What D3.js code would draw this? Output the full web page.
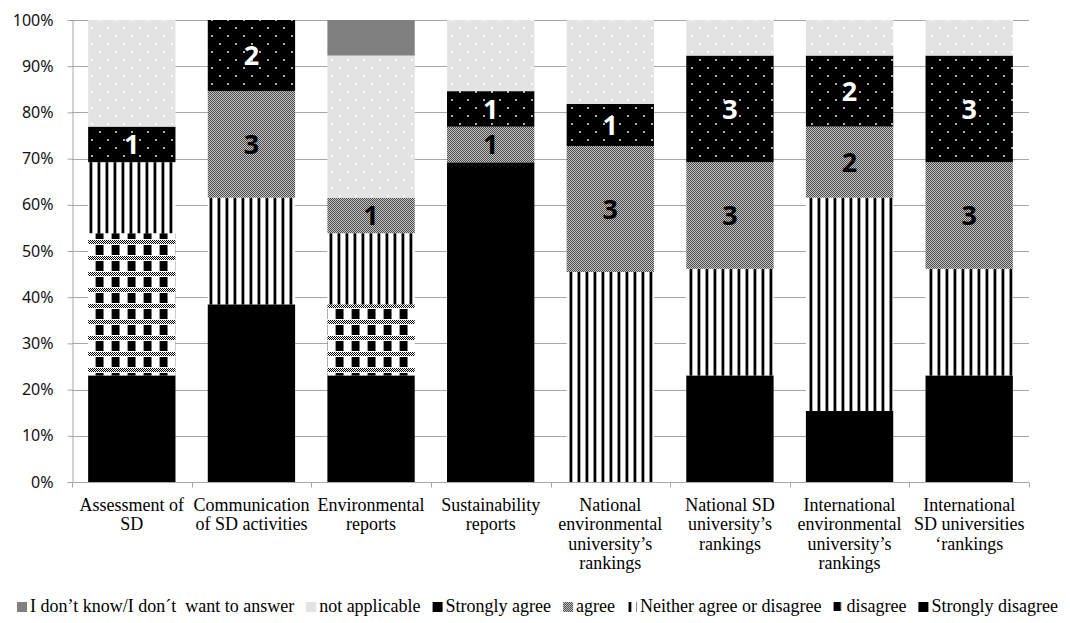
<!DOCTYPE html>
<html>
<head>
<meta charset="utf-8">
<script src="https://cdn.jsdelivr.net/npm/d3@7"></script>
<style>
  html, body { margin: 0; padding: 0; background: #fff; }
  svg { display: block; }
  text { white-space: pre; }
  .serif { font-family: "Liberation Serif", "Times New Roman", Times, "DejaVu Serif", serif; }
  .sans { font-family: "Noto Sans", "DejaVu Sans", sans-serif; }
</style>
</head>
<body>
<svg id="chart" width="1070" height="623"></svg>
<script>
// ---------------- data ----------------
const categories = [
  "Assessment of\nSD",
  "Communication\nof SD activities",
  "Environmental\nreports",
  "Sustainability\nreports",
  "National\nenvironmental\nuniversity’s\nrankings",
  "National SD\nuniversity’s\nrankings",
  "International\nenvironmental\nuniversity’s\nrankings",
  "International\nSD universities\n‘rankings"
];
const seriesNames = ["Strongly disagree", "disagree", "Neither agree or disagree", "agree",
                     "Strongly agree", "not applicable", "I don’t know/I don´t  want to answer"];
const stronglyDisagree = [23.1, 38.5, 23.1, 69.2, 0, 23.1, 15.4, 23.1];
const disagree         = [30.8, 0, 15.4, 0, 0, 0, 0, 0];
const neither          = [15.4, 23.1, 15.4, 0, 45.5, 23.1, 46.2, 23.1];
const agree            = [0, 23.1, 7.7, 7.7, 27.3, 23.1, 15.4, 23.1];
const stronglyAgree    = [7.7, 15.4, 0, 7.7, 9.1, 23.1, 15.4, 23.1];
const notApplicable    = [23.1, 0, 30.8, 15.4, 18.2, 7.7, 7.7, 7.7];
const dontKnow         = [0, 0, 7.7, 0, 0, 0, 0, 0];
const agreeLabels          = [null, 3, 1, 1, 3, 3, 2, 3];
const stronglyAgreeLabels  = [1, 2, null, 1, 1, 3, 2, 3];
const yTicks = [0, 0.1, 0.2, 0.3, 0.4, 0.5, 0.6, 0.7, 0.8, 0.9, 1];
const legendOrder = [6, 5, 4, 3, 2, 1, 0];

// ---------------- setup ----------------
const svg = d3.select("#chart");
const margin = {left: 72, right: 41, top: 20, bottom: 141};
const W = 1070, H = 623;
const x = d3.scaleBand().domain(d3.range(categories.length))
  .range([margin.left, W - margin.right]).paddingInner(0.27).paddingOuter(0.135);
const y = d3.scaleLinear().domain([0, 1]).range([H - margin.bottom, margin.top]);

const keys = seriesNames.map((d, i) => i);
const cols = [stronglyDisagree, disagree, neither, agree, stronglyAgree, notApplicable, dontKnow];
const table = categories.map((c, j) => {
  const o = {cat: j};
  cols.forEach((arr, i) => o[i] = arr[j]);
  return o;
});
const stack = d3.stack().keys(keys).offset(d3.stackOffsetExpand);
const layers = stack(table);

// ---------------- patterns ----------------
const defs = svg.append("defs");
function pat(id, w, h, draw) {
  const p = defs.append("pattern").attr("id", id).attr("patternUnits", "userSpaceOnUse")
    .attr("width", w).attr("height", h);
  draw(p);
}
pat("pDis", 16, 16, p => {
  p.append("rect").attr("width", 16).attr("height", 16).attr("fill", "#fff");
  for (let i = 0; i < 16; i++) for (let k = 0; k < 4; k++) {
    if ((i + k) % 2 === 0) p.append("rect").attr("x", i).attr("y", k).attr("width", 1).attr("height", 1).attr("fill", "#000");
  }
  p.append("rect").attr("x", 0).attr("y", 5).attr("width", 7).attr("height", 10).attr("fill", "#000");
  p.append("rect").attr("x", 7).attr("y", 5).attr("width", 1).attr("height", 10).attr("fill", "#777");
  p.append("rect").attr("x", 15).attr("y", 5).attr("width", 1).attr("height", 10).attr("fill", "#999");
});
pat("pNei", 8, 8, p => {
  p.append("rect").attr("width", 8).attr("height", 8).attr("fill", "#fff");
  p.append("rect").attr("x", 1).attr("width", 1).attr("height", 8).attr("fill", "#888");
  p.append("rect").attr("x", 2).attr("width", 2).attr("height", 8).attr("fill", "#000");
  p.append("rect").attr("x", 4).attr("width", 1).attr("height", 8).attr("fill", "#aaa");
});
pat("pAgr", 4, 4, p => {
  p.append("rect").attr("width", 4).attr("height", 4).attr("fill", "#c4c4c4");
  [[0,0],[2,0],[1,1],[3,1],[0,2],[2,2],[1,3],[3,3]].forEach(([a,b]) =>
    p.append("rect").attr("x", a).attr("y", b).attr("width", 1).attr("height", 1).attr("fill", "#4a4a4a"));
});
pat("pSA", 16, 16, p => {
  p.append("rect").attr("width", 16).attr("height", 16).attr("fill", "#000");
  p.append("rect").attr("x", 3).attr("y", 3).attr("width", 2).attr("height", 2).attr("fill", "#b0b0b0");
  p.append("rect").attr("x", 11).attr("y", 11).attr("width", 2).attr("height", 2).attr("fill", "#b0b0b0");
});
pat("pNA", 16, 16, p => {
  p.append("rect").attr("width", 16).attr("height", 16).attr("fill", "#e3e3e3");
  p.append("rect").attr("x", 3).attr("y", 3).attr("width", 2).attr("height", 2).attr("fill", "#fafafa");
  p.append("rect").attr("x", 11).attr("y", 11).attr("width", 2).attr("height", 2).attr("fill", "#fafafa");
});
const fills = ["#000", "url(#pDis)", "url(#pNei)", "url(#pAgr)", "url(#pSA)", "url(#pNA)", "#808080"];

// ---------------- grid & axes ----------------
const gridColor = "#a6a6a6";
svg.append("g").selectAll("line").data(yTicks).join("line")
  .attr("x1", margin.left).attr("x2", W - margin.right)
  .attr("y1", d => Math.round(y(d)) + 0.5).attr("y2", d => Math.round(y(d)) + 0.5)
  .attr("stroke", gridColor).attr("stroke-width", 1);

svg.append("g").selectAll("g").data(layers).join("g")
  .attr("fill", (d, i) => fills[i])
  .selectAll("rect").data(d => d).join("rect")
  .attr("x", (d, j) => x(j))
  .attr("width", x.bandwidth())
  .attr("y", d => y(d[1]))
  .attr("height", d => Math.max(0, y(d[0]) - y(d[1])));

const yAxis = d3.axisLeft(y).tickValues(yTicks).tickFormat(d3.format(".0%")).tickSize(5).tickPadding(14);
const gy = svg.append("g").attr("transform", `translate(${margin.left + 0.5},0)`).call(yAxis);
gy.attr("font-family", null).attr("font-size", null);
gy.select(".domain").attr("stroke", gridColor);
gy.selectAll(".tick line").attr("stroke", gridColor);
gy.selectAll(".tick text").attr("class", "sans").attr("font-size", 16).attr("fill", "#111");

const gx = svg.append("g").attr("transform", `translate(0,${Math.round(y(0)) + 0.5})`);
gx.append("line").attr("x1", margin.left).attr("x2", W - margin.right).attr("stroke", gridColor);
const step = x.step();
gx.selectAll("line.t").data(d3.range(categories.length + 1)).join("line").attr("class", "t")
  .attr("x1", i => Math.round(margin.left + i * step) + 0.5).attr("x2", i => Math.round(margin.left + i * step) + 0.5)
  .attr("y1", 0).attr("y2", 5).attr("stroke", gridColor);
gx.selectAll("text").data(categories).join("text")
  .attr("class", "serif").attr("font-size", 18)
  .attr("text-anchor", "middle").attr("fill", "#000")
  .each(function(d, j) {
    const t = d3.select(this);
    d.split("\n").forEach((line, k) => {
      t.append("tspan").attr("x", x(j) + x.bandwidth() / 2).attr("y", 28 + k * 19.5).text(line);
    });
  });

function addLabels(layerIdx, labels, color) {
  svg.append("g").selectAll("text").data(layers[layerIdx].map((d, j) => ({d, j, v: labels[j]})).filter(o => o.v != null))
    .join("text")
    .attr("class", "sans")
    .attr("x", o => x(o.j) + x.bandwidth() / 2)
    .attr("y", o => (y(o.d[0]) + y(o.d[1])) / 2)
    .attr("dy", "0.36em")
    .attr("text-anchor", "middle")
    .attr("font-weight", "bold").attr("font-size", 27)
    .attr("fill", color)
    .text(o => o.v);
}
addLabels(3, agreeLabels, "#000");
addLabels(4, stronglyAgreeLabels, "#fff");

const lg = svg.append("g").attr("transform", "translate(17,612)");
let cx = 0;
legendOrder.forEach(i => {
  const g = lg.append("g").attr("transform", `translate(${cx},0)`);
  g.append("rect").attr("x", 0).attr("y", -10).attr("width", 10).attr("height", 10).attr("fill", fills[i]);
  const t = g.append("text").attr("x", 13).attr("y", 0)
    .attr("class", "serif").attr("font-size", 18).attr("fill", "#000")
    .text(seriesNames[i]);
  cx += 13 + t.node().getComputedTextLength() + 12;
});
</script>
</body>
</html>
